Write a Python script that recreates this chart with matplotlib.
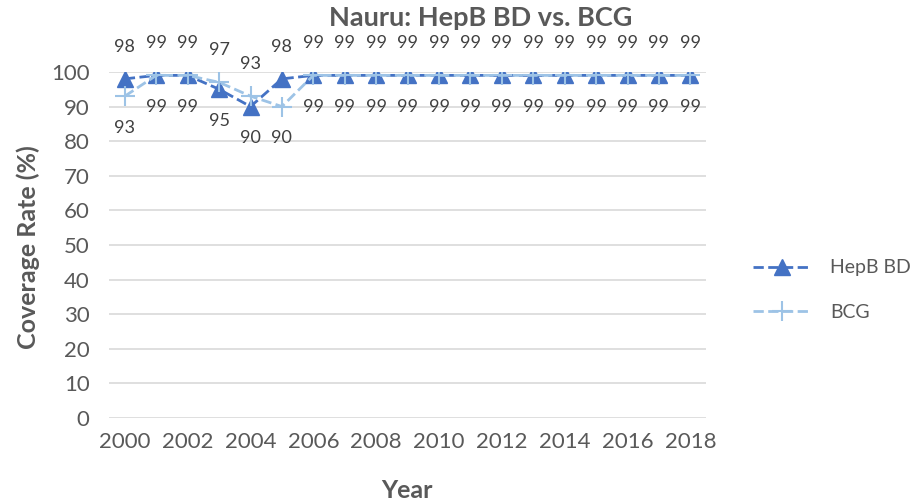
import matplotlib.pyplot as plt
import numpy as np

plt.rcParams['font.family'] = ['Lato', 'DejaVu Sans']

years = list(range(2000, 2019))
hepb = [98, 99, 99, 95, 90, 98, 99, 99, 99, 99, 99, 99, 99, 99, 99, 99, 99, 99, 99]
bcg = [93, 99, 99, 97, 93, 90, 99, 99, 99, 99, 99, 99, 99, 99, 99, 99, 99, 99, 99]
tick_years = [str(y) if y % 2 == 0 else '' for y in years]

gray = '#595959'
c_hepb = '#4472C4'
c_bcg = '#9DC3E6'

fig = plt.figure(figsize=(9.17, 5.03), dpi=100)
ax = fig.add_axes([0.119, 0.169, 0.651, 0.688])

x = np.arange(len(years))
ax.plot(x, hepb, color=c_hepb, linestyle='--', linewidth=2, marker='^',
        markersize=11, label='HepB BD', zorder=3)
ax.plot(x, bcg, color=c_bcg, linestyle='--', linewidth=2, marker='+',
        markersize=15, markeredgewidth=1.5, label='BCG', zorder=4)

for i in range(len(years)):
    up = hepb[i] >= bcg[i]
    ax.annotate(str(hepb[i]), (x[i], hepb[i]), xytext=(0, 23 if up else -23),
                textcoords='offset points', ha='center', va='center',
                fontsize=13, color='#404040')
    ax.annotate(str(bcg[i]), (x[i], bcg[i]), xytext=(0, -23 if up else 23),
                textcoords='offset points', ha='center', va='center',
                fontsize=13, color='#404040')

ax.set_xlim(-0.5, len(years) - 0.5)
ax.set_ylim(0, 100)
ax.set_yticks(range(0, 101, 10))
ax.set_xticks(x)
ax.set_xticklabels(tick_years)
ax.tick_params(axis='both', length=0, labelsize=16, colors=gray, pad=10)
ax.tick_params(axis='y', pad=14)
ax.grid(axis='y', color='#D9D9D9', linewidth=1.2)
ax.set_axisbelow(True)
for s in ax.spines.values():
    s.set_visible(False)

fig.text(407 / 917, 1 - 490 / 503, 'Year', ha='center', va='center',
         fontsize=18, fontweight='bold', color=gray)
fig.text(28 / 917, 1 - 247 / 503, 'Coverage Rate (%)', ha='center', va='center',
         rotation=90, fontsize=18, fontweight='bold', color=gray)
fig.text(481 / 917, 1 - 18 / 503, 'Nauru: HepB BD vs. BCG', ha='center', va='center',
         fontsize=19.5, fontweight='bold', color=gray)

fig.legend(loc='center left', bbox_to_anchor=(735 / 917, 1 - 290 / 503),
           frameon=False, fontsize=14, labelcolor=gray, handlelength=3.0,
           handletextpad=1.0, labelspacing=1.4)

fig.savefig('out.png', dpi=100)
